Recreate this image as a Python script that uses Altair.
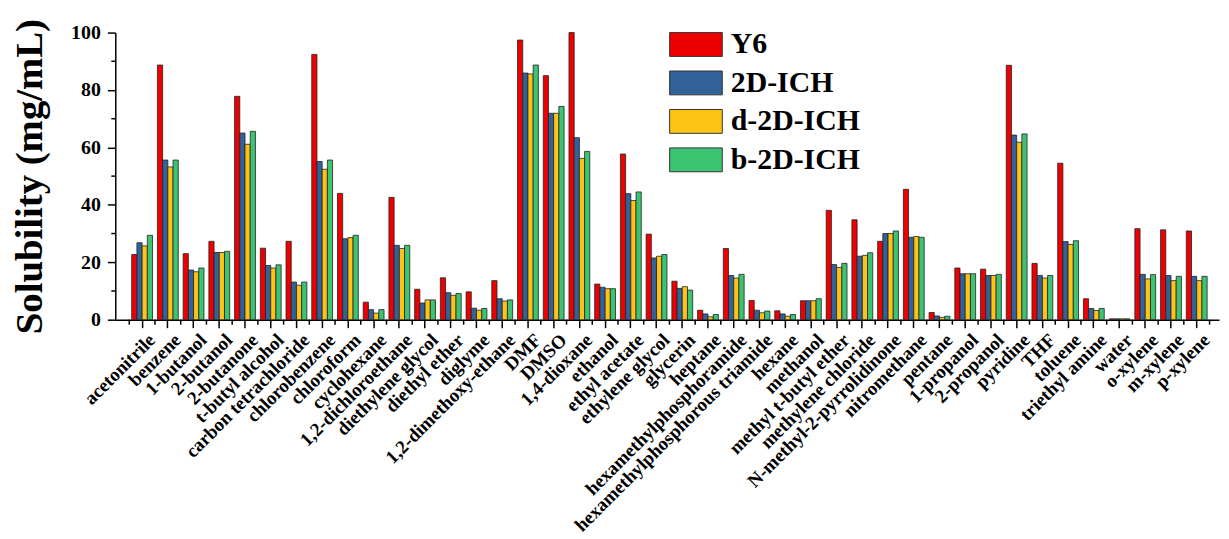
import altair as alt
import pandas as pd

categories = ["acetonitrile", "benzene", "1-butanol", "2-butanol", "2-butanone", "t-butyl alcohol",
              "carbon tetrachloride", "chlorobenzene", "chloroform", "cyclohexane", "1,2-dichloroethane",
              "diethylene glycol", "diethyl ether", "diglyme", "1,2-dimethoxy-ethane", "DMF", "DMSO",
              "1,4-dioxane", "ethanol", "ethyl acetate", "ethylene glycol", "glycerin", "heptane",
              "hexamethylphosphoramide", "hexamethylphosphorous triamide", "hexane", "methanol",
              "methyl t-butyl ether", "methylene chloride", "N-methyl-2-pyrrolidinone", "nitromethane",
              "pentane", "1-propanol", "2-propanol", "pyridine", "THF", "toluene", "triethyl amine",
              "water", "o-xylene", "m-xylene", "p-xylene"]

series_names = ["Y6", "2D-ICH", "d-2D-ICH", "b-2D-ICH"]

y6 = [22.7, 88.7, 23.0, 27.3, 77.8, 24.9, 27.3, 92.4, 44.0, 6.1, 42.6, 10.6, 14.6, 9.7, 13.6, 97.4,
      85.0, 100.0, 12.4, 57.7, 29.8, 13.4, 3.3, 24.8, 6.7, 3.1, 6.6, 38.1, 34.8, 27.3, 45.4, 2.5,
      18.0, 17.6, 88.6, 19.6, 54.5, 7.3, 0.3, 31.7, 31.3, 30.9]
ich = [26.8, 55.6, 17.3, 23.4, 65.0, 18.9, 13.1, 55.1, 28.2, 3.5, 25.9, 5.8, 9.4, 4.0, 7.3, 85.9,
       71.9, 63.4, 11.3, 43.9, 21.5, 10.9, 2.0, 15.4, 3.3, 2.0, 6.6, 19.2, 22.1, 30.0, 28.7, 1.3,
       16.0, 15.4, 64.3, 15.4, 27.2, 3.9, 0.3, 15.8, 15.4, 15.1]
d_ich = [25.7, 53.2, 16.7, 23.4, 61.1, 18.0, 12.0, 52.4, 28.6, 2.3, 24.8, 6.9, 8.5, 3.3, 6.5, 85.6,
         71.9, 56.2, 10.8, 41.5, 22.1, 11.5, 1.0, 14.5, 2.4, 1.2, 6.6, 18.2, 22.4, 30.0, 29.0, 0.8,
         16.0, 15.4, 61.8, 14.5, 26.2, 3.2, 0.3, 14.2, 13.6, 13.6]
b_ich = [29.4, 55.6, 18.0, 23.8, 65.6, 19.1, 13.1, 55.6, 29.4, 3.5, 25.9, 6.9, 9.1, 3.9, 6.9, 88.7,
         74.3, 58.6, 10.8, 44.5, 22.7, 10.3, 1.8, 15.8, 3.0, 1.8, 7.3, 19.6, 23.3, 30.9, 28.7, 1.2,
         16.0, 15.8, 64.7, 15.4, 27.5, 3.9, 0.3, 15.7, 15.1, 15.1]

colors = ["#EE0000", "#31639A", "#FFC316", "#3DC472"]
y_major = [0, 20, 40, 60, 80, 100]
y_minor = [10, 30, 50, 70, 90]

rows = []
for name, vals in zip(series_names, [y6, ich, d_ich, b_ich]):
    for c, v in zip(categories, vals):
        rows.append({"cat": c, "series": name, "value": v})
df = pd.DataFrame(rows)

W, H = 1111, 289
n = len(categories)
p_in, p_out = 0.19, 0.55
step = W / (n - p_in + 2 * p_out)
FONT = "Liberation Serif"

xscale = alt.Scale(paddingInner=p_in, paddingOuter=p_out, align=0.58)
yscale = alt.Scale(domain=[0, 100], nice=False)

xaxis = alt.Axis(labelAngle=315, labelAlign="right", labelBaseline="middle",
                 labelFont=FONT, labelFontWeight="bold", labelFontSize=19,
                 labelColor="black", labelPadding=9, labelOffset=10, tickSize=8, tickWidth=1.5,
                 tickColor="black", domainColor="black", domainWidth=1.5,
                 bandPosition=0.5, labelOverlap=False, labelLimit=500)
yaxis = alt.Axis(values=y_major, labelFont=FONT, labelFontWeight="bold",
                 labelFontSize=20, labelColor="black", tickSize=8, tickWidth=1.5,
                 tickColor="black", domainColor="black", domainWidth=1.5,
                 grid=False, labelPadding=7, titleFont=FONT, titleFontWeight="bold",
                 titleFontSize=39, titleColor="black", titleAngle=270,
                 titleBaseline="middle", titleAlign="center", titleX=-86, titleY=H / 2)
YTITLE = "Solubility (mg/mL)"

# legend swatch: nominal size 25px, drawn 53 x 24 px
bars = alt.Chart(df).mark_bar(stroke="#222222", strokeWidth=0.8).encode(
    x=alt.X("cat:N", sort=categories, scale=xscale, title=None, axis=xaxis),
    xOffset=alt.XOffset("series:N", sort=series_names,
                        scale=alt.Scale(paddingInner=0, paddingOuter=0)),
    y=alt.Y("value:Q", scale=yscale, title=YTITLE, axis=yaxis),
    color=alt.Color("series:N", sort=series_names,
                    scale=alt.Scale(domain=series_names, range=colors),
                    legend=alt.Legend(title=None, orient="none", legendX=569.5, legendY=-3,
                                      direction="vertical",
                                      symbolType="M-2.12,-0.96H2.12V0.96H-2.12Z", symbolSize=625,
                                      symbolStrokeColor="#333333", symbolStrokeWidth=1,
                                      symbolOpacity=1,
                                      labelFont=FONT, labelFontWeight="bold", labelFontSize=30,
                                      labelColor="black", labelOffset=20, rowPadding=8.7,
                                      padding=0)),
)

ymin = alt.Chart(pd.DataFrame({"value": y_minor})).mark_rule(color="black", strokeWidth=1.5).encode(
    y=alt.Y("value:Q", scale=yscale, title=YTITLE, axis=yaxis),
    x=alt.value(-4), x2=alt.value(0),
)

xmin_a = alt.Chart(pd.DataFrame({"cat": categories})).mark_rule(
    color="black", strokeWidth=1.5, xOffset=-step / 2).encode(
    x=alt.X("cat:N", sort=categories, scale=xscale, title=None, axis=xaxis),
    y=alt.value(H), y2=alt.value(H + 5),
)
xmin_b = alt.Chart(pd.DataFrame({"cat": categories[-1:]})).mark_rule(
    color="black", strokeWidth=1.5, xOffset=step / 2).encode(
    x=alt.X("cat:N", sort=categories, scale=xscale, title=None, axis=xaxis),
    y=alt.value(H), y2=alt.value(H + 5),
)

chart = alt.layer(bars, ymin, xmin_a, xmin_b).properties(
    width=W, height=H,
    autosize=alt.AutoSizeParams(type="none"),
    padding={"left": 108, "top": 23, "right": 2, "bottom": 216},
).configure_view(stroke=None)

chart.save("out.html", embed_options={"renderer": "svg", "actions": False})
